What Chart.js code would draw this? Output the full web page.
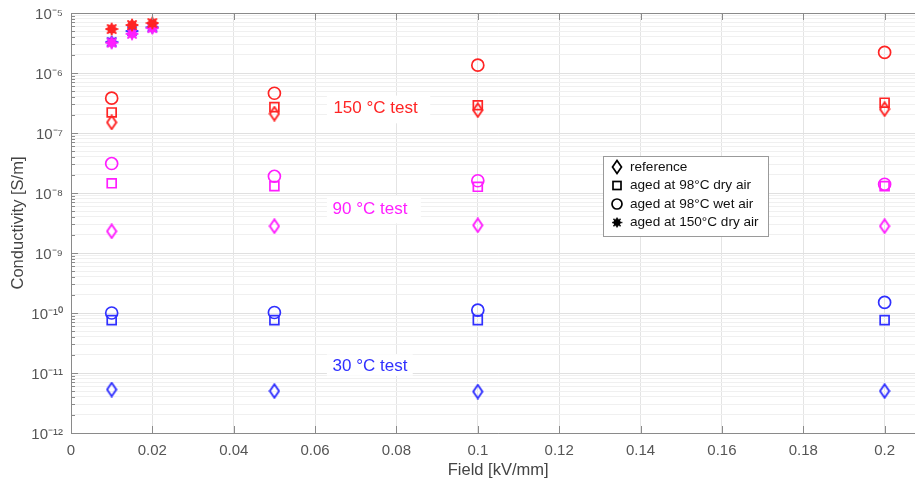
<!DOCTYPE html>
<html>
<head>
<meta charset="utf-8">
<script src="https://cdn.jsdelivr.net/npm/chart.js@4/dist/chart.umd.min.js"></script>
<style>
html,body{margin:0;padding:0;background:#fff;overflow:hidden;}
#wrap{position:relative;width:915px;height:481px;overflow:hidden;}
</style>
</head>
<body>
<div id="wrap"><canvas id="c" width="934" height="481"></canvas></div>
<script>
// ---- data ----
const fields = [0.01, 0.05, 0.1, 0.2];
const starFields = [0.01, 0.015, 0.02];

const ref150 = [1.5e-7, 2.1e-7, 2.4e-7, 2.5e-7];
const dry150 = [2.2e-7, 2.7e-7, 2.9e-7, 3.2e-7];
const wet150 = [3.8e-7, 4.6e-7, 1.35e-6, 2.2e-6];
const hot150 = [5.4e-6, 6.3e-6, 6.8e-6];

const ref90 = [2.3e-9, 2.8e-9, 2.9e-9, 2.8e-9];
const dry90 = [1.45e-8, 1.3e-8, 1.27e-8, 1.3e-8];
const wet90 = [3.1e-8, 1.9e-8, 1.6e-8, 1.4e-8];
const hot90 = [3.2e-6, 4.5e-6, 5.6e-6];

const ref30 = [5.3e-12, 5.0e-12, 4.9e-12, 5.0e-12];
const dry30 = [7.6e-11, 7.6e-11, 7.6e-11, 7.6e-11];
const wet30 = [1.0e-10, 1.02e-10, 1.12e-10, 1.5e-10];
const hot30 = [3.3e-6, 5.0e-6, 5.8e-6];

const xTicks = [0, 0.02, 0.04, 0.06, 0.08, 0.1, 0.12, 0.14, 0.16, 0.18, 0.2];
const yDecades = [-12, -11, -10, -9, -8, -7, -6, -5];
const legendLabels = ['reference', 'aged at 98°C dry air', 'aged at 98°C wet air', 'aged at 150°C dry air'];
const testLabels = ['150 °C test', '90 °C test', '30 °C test'];

const RED = '#ff2424', MAG = '#ff1eff', BLUE = '#3030ff';
const FONT = '"Liberation Sans", Arial, Helvetica, sans-serif';

// ---- marker images ----
function diamondImg(color){
  const c = document.createElement('canvas'); c.width = 12; c.height = 16;
  const g = c.getContext('2d');
  g.strokeStyle = color; g.lineWidth = 1.9;
  g.beginPath(); g.moveTo(6,1.3); g.lineTo(10.6,8); g.lineTo(6,14.7); g.lineTo(1.4,8); g.closePath(); g.stroke();
  return c;
}
function starImg(color){
  const c = document.createElement('canvas'); c.width = 14; c.height = 14;
  const g = c.getContext('2d');
  g.strokeStyle = color; g.fillStyle = color; g.lineWidth = 2; g.lineCap = 'round';
  g.beginPath(); g.arc(7,7,4.7,0,Math.PI*2); g.fill();
  g.beginPath();
  for (let k=0;k<4;k++){ const a = k*Math.PI/4; g.moveTo(7-Math.cos(a)*5.6, 7-Math.sin(a)*5.6); g.lineTo(7+Math.cos(a)*5.6, 7+Math.sin(a)*5.6); }
  g.stroke();
  return c;
}

function pts(xs, ys){ return xs.map((x,i)=>({x:x, y:ys[i]})); }
function ds(label, xs, ys, color, style){
  const d = {label, data: pts(xs, ys), showLine:false, borderColor:color, backgroundColor:'rgba(0,0,0,0)', borderWidth:1.7};
  if (style === 'diamond'){ d.pointStyle = diamondImg(color); d.pointRadius = 7; }
  else if (style === 'square'){ d.pointStyle = 'rect'; d.pointRadius = 6.3; }
  else if (style === 'circle'){ d.pointStyle = 'circle'; d.pointRadius = 6; }
  else { d.pointStyle = starImg(color); d.pointRadius = 6; }
  d.pointHoverRadius = d.pointRadius;
  return d;
}

const datasets = [
  ds('150 hot', starFields, hot150, RED, 'star'),
  ds('90 hot', starFields, hot90, MAG, 'star'),
  ds('30 hot', starFields, hot30, BLUE, 'star'),
  ds('150 wet', fields, wet150, RED, 'circle'),
  ds('150 dry', fields, dry150, RED, 'square'),
  ds('150 ref', fields, ref150, RED, 'diamond'),
  ds('90 wet', fields, wet90, MAG, 'circle'),
  ds('90 dry', fields, dry90, MAG, 'square'),
  ds('90 ref', fields, ref90, MAG, 'diamond'),
  ds('30 wet', fields, wet30, BLUE, 'circle'),
  ds('30 dry', fields, dry30, BLUE, 'square'),
  ds('30 ref', fields, ref30, BLUE, 'diamond'),
];

const SUP = {'-':'⁻','0':'⁰','1':'¹','2':'²','3':'³','4':'⁴','5':'⁵','6':'⁶','7':'⁷','8':'⁸','9':'⁹'};
function supStr(n){ return String(n).split('').map(ch=>SUP[ch]).join(''); }

function yTickValues(){
  const out = [];
  for (let i=0;i<yDecades.length;i++){
    const e = yDecades[i];
    out.push({value: Math.pow(10,e), major:true, exp:e});
    if (i < yDecades.length-1) for (let m=2;m<=9;m++) out.push({value: m*Math.pow(10,e), major:false});
  }
  return out;
}

// background boxes + annotations (drawn before datasets, after grid)
const annotPlugin = {
  id:'annot',
  beforeDatasetsDraw(chart){
    const {ctx} = chart; const xs = chart.scales.x, ys = chart.scales.y;
    const items = [
      {t:testLabels[0], c:RED, x:0.0645, y:2.55e-7, box:[0.0629, 0.0883, 4.2e-7, 1.45e-7]},
      {t:testLabels[1], c:MAG, x:0.0643, y:5.3e-9, box:[0.0629, 0.0860, 8.9e-9, 3.1e-9]},
      {t:testLabels[2], c:BLUE, x:0.0643, y:1.3e-11, box:[0.0629, 0.0840, 2.05e-11, 9.0e-12]},
    ];
    ctx.save();
    items.forEach(it=>{
      const x0 = xs.getPixelForValue(it.box[0]), x1 = xs.getPixelForValue(it.box[1]);
      const y0 = ys.getPixelForValue(it.box[2]), y1 = ys.getPixelForValue(it.box[3]);
      ctx.fillStyle = '#fff'; ctx.fillRect(x0, y0, x1-x0, y1-y0);
      ctx.fillStyle = it.c; ctx.font = '17px '+FONT; ctx.textBaseline = 'middle'; ctx.textAlign = 'left';
      ctx.fillText(it.t, xs.getPixelForValue(it.x), ys.getPixelForValue(it.y));
    });
    ctx.restore();
  }
};

// axes lines, inner ticks, legend
const axesPlugin = {
  id:'axesBox',
  afterDatasetsDraw(chart){
    const {ctx, chartArea:a} = chart; const xs = chart.scales.x, ys = chart.scales.y;
    ctx.save();
    ctx.strokeStyle = '#8a8a8a'; ctx.lineWidth = 1;
    ctx.beginPath();
    ctx.moveTo(a.left+0.5, a.top+0.5); ctx.lineTo(a.left+0.5, a.bottom+0.5);
    ctx.moveTo(a.left, a.bottom+0.5); ctx.lineTo(a.right, a.bottom+0.5);
    ctx.moveTo(a.left, a.top+0.5); ctx.lineTo(a.right, a.top+0.5);
    xTicks.forEach(v=>{
      const px = Math.round(xs.getPixelForValue(v))+0.5;
      ctx.moveTo(px, a.bottom); ctx.lineTo(px, a.bottom-7);
      ctx.moveTo(px, a.top); ctx.lineTo(px, a.top+7);
    });
    yTickValues().forEach(t=>{
      const py = Math.round(ys.getPixelForValue(t.value))+0.5;
      ctx.moveTo(a.left, py); ctx.lineTo(a.left + (t.major?7:4), py);
    });
    ctx.stroke();

    // legend
    const L = {x:603.5, y:156.5, w:165, h:80};
    ctx.fillStyle = '#fff'; ctx.fillRect(L.x, L.y, L.w, L.h);
    ctx.strokeStyle = '#9a9a9a'; ctx.strokeRect(L.x, L.y, L.w, L.h);
    const rowY = [167, 185.5, 204, 222.5];
    const mx = 617;
    ctx.strokeStyle = '#000'; ctx.fillStyle = '#000'; ctx.lineWidth = 1.7;
    ctx.beginPath(); ctx.moveTo(mx, rowY[0]-6.5); ctx.lineTo(mx+4.5, rowY[0]); ctx.lineTo(mx, rowY[0]+6.5); ctx.lineTo(mx-4.5, rowY[0]); ctx.closePath(); ctx.stroke();
    ctx.strokeRect(mx-4, rowY[1]-4, 8, 8);
    ctx.beginPath(); ctx.arc(mx, rowY[2], 5, 0, Math.PI*2); ctx.stroke();
    ctx.drawImage(starImg('#000'), mx-5.5, rowY[3]-5.5, 11, 11);
    ctx.font = '13.6px '+FONT; ctx.textBaseline = 'middle'; ctx.textAlign = 'left'; ctx.fillStyle = '#111';
    legendLabels.forEach((t,i)=> ctx.fillText(t, 630, rowY[i]));
    ctx.restore();
  }
};

new Chart(document.getElementById('c'), {
  type:'scatter',
  data:{datasets},
  options:{
    responsive:false, animation:false,
    layout:{padding:{top:13, left:0, right:0, bottom:0}},
    plugins:{legend:{display:false}, tooltip:{enabled:false}},
    scales:{
      x:{
        type:'linear', min:0, max:0.21,
        afterBuildTicks(s){ s.ticks = xTicks.map(v=>({value:v})); },
        afterFit(s){ s.height = 48; s.paddingLeft = 0; s.paddingRight = 0; },
        border:{display:false},
        grid:{color:'#e4e4e4', drawTicks:false, lineWidth:1},
        ticks:{color:'#555', font:{family:FONT, size:15}, padding:9, autoSkip:false, maxRotation:0,
               callback:(v)=> String(Math.round(v*100)/100)},
        title:{display:true, text:'Field [kV/mm]', color:'#444', font:{family:FONT, size:16.5}, padding:{top:0, bottom:1}}
      },
      y:{
        type:'logarithmic', min:1e-12, max:1e-5,
        afterBuildTicks(s){ s.ticks = yTickValues(); },
        afterFit(s){ s.width = 71; s.paddingTop = 0; s.paddingBottom = 0; },
        border:{display:false},
        grid:{drawTicks:false, lineWidth:1, color:(c)=> (c.tick && c.tick.major) ? '#e0e0e0' : '#f0f0f0'},
        ticks:{color:'#555', font:{family:FONT, size:15}, padding:8, autoSkip:false, labelOffset:2,
               callback:function(v, i, ticks){ const t = ticks[i]; return (t && t.major) ? '10' + supStr(t.exp) : ''; }},
        title:{display:true, text:'Conductivity [S/m]', color:'#444', font:{family:FONT, size:16.5}, padding:{top:9, bottom:0}}
      }
    }
  },
  plugins:[annotPlugin, axesPlugin]
});
</script>
</body>
</html>
